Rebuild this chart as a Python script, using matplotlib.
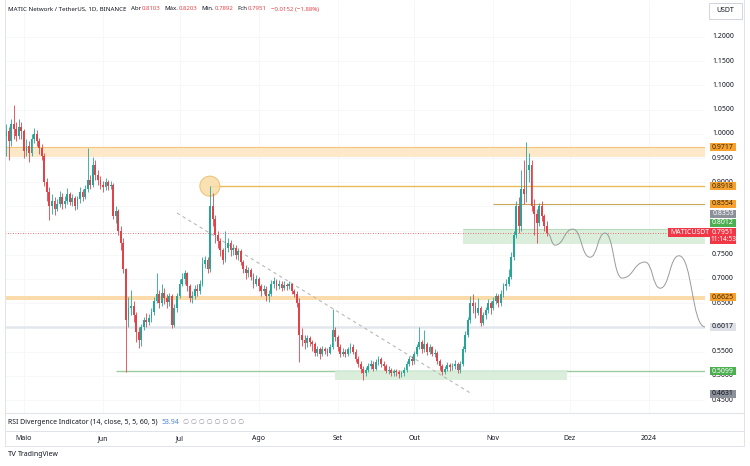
import numpy as np
import pandas as pd
import matplotlib
matplotlib.use('Agg')
import matplotlib.pyplot as plt
import matplotlib.transforms as mtransforms
from matplotlib.patches import Rectangle, Ellipse, PathPatch
from matplotlib.path import Path
from matplotlib.lines import Line2D

plt.rcParams['font.family'] = ['Noto Sans', 'DejaVu Sans']

# ---- daily candles MATIC/USDT, 2023-04-24 .. 2023-11-22 ----
dates = pd.date_range('2023-04-24', '2023-11-22', freq='D')

closes = [
    1.005, 0.985, 1.020, 1.010, 0.995, 1.015, 1.005,
    0.965, 0.975, 0.960, 0.990, 1.000, 0.985, 0.970,
    0.955, 0.900, 0.880, 0.850, 0.862, 0.845, 0.855,
    0.870, 0.855, 0.862, 0.875, 0.860, 0.868, 0.850,
    0.865, 0.880, 0.870, 0.885, 0.905, 0.895, 0.935,
    0.915, 0.905, 0.895, 0.890, 0.900, 0.892, 0.895,
    0.830, 0.840, 0.800, 0.775, 0.720, 0.615, 0.640,
    0.645, 0.625, 0.590, 0.575, 0.600, 0.615, 0.612,
    0.620, 0.632, 0.655, 0.668, 0.650, 0.672, 0.660,
    0.652, 0.665, 0.605, 0.640, 0.665, 0.690, 0.700,
    0.712, 0.685, 0.660, 0.665, 0.680, 0.675, 0.690,
    0.730, 0.740, 0.720, 0.850, 0.825, 0.790, 0.778,
    0.760, 0.740, 0.765, 0.775, 0.760, 0.765, 0.750,
    0.758, 0.735, 0.720, 0.712, 0.718, 0.705, 0.690,
    0.700, 0.685, 0.675, 0.680, 0.665, 0.670, 0.690,
    0.695, 0.685, 0.690, 0.682, 0.688, 0.685, 0.690,
    0.675, 0.670, 0.650, 0.585, 0.575, 0.568, 0.578,
    0.570, 0.565, 0.548, 0.555, 0.545, 0.555, 0.552,
    0.548, 0.560, 0.595, 0.580, 0.560, 0.545, 0.550,
    0.545, 0.555, 0.560, 0.550, 0.535, 0.525, 0.515,
    0.505, 0.512, 0.520, 0.525, 0.515, 0.528, 0.535,
    0.525, 0.520, 0.510, 0.512, 0.505, 0.510, 0.508,
    0.503, 0.505, 0.512, 0.525, 0.535, 0.530, 0.545,
    0.560, 0.570, 0.555, 0.565, 0.550, 0.560, 0.545,
    0.548, 0.530, 0.520, 0.508, 0.515, 0.522, 0.518,
    0.520, 0.525, 0.512, 0.525, 0.555, 0.585, 0.615,
    0.650, 0.645, 0.630, 0.640, 0.610, 0.625, 0.635,
    0.650, 0.640, 0.655, 0.665, 0.650, 0.670, 0.685,
    0.690, 0.705, 0.745, 0.790, 0.850, 0.810, 0.885,
    0.875, 0.925, 0.935, 0.850, 0.835, 0.815, 0.850,
    0.830, 0.8103, 0.7951,
]

highs = [
    1.020, 1.015, 1.030, 1.060, 1.025, 1.030, 1.025,
    1.010, 0.990, 0.985, 1.000, 1.012, 1.008, 0.992,
    0.978, 0.960, 0.908, 0.890, 0.875, 0.870, 0.866,
    0.882, 0.878, 0.872, 0.888, 0.880, 0.876, 0.872,
    0.872, 0.890, 0.886, 0.895, 0.971, 0.915, 0.952,
    0.945, 0.925, 0.912, 0.902, 0.908, 0.905, 0.902,
    0.898, 0.850, 0.845, 0.810, 0.785, 0.722, 0.662,
    0.677, 0.655, 0.632, 0.600, 0.608, 0.622, 0.630,
    0.628, 0.640, 0.662, 0.712, 0.678, 0.690, 0.682,
    0.668, 0.672, 0.668, 0.648, 0.672, 0.700, 0.712,
    0.718, 0.715, 0.690, 0.675, 0.688, 0.690, 0.698,
    0.745, 0.748, 0.745, 0.892, 0.878, 0.832, 0.800,
    0.785, 0.765, 0.800, 0.785, 0.780, 0.772, 0.770,
    0.765, 0.762, 0.740, 0.728, 0.725, 0.722, 0.712,
    0.708, 0.705, 0.690, 0.688, 0.685, 0.678, 0.698,
    0.705, 0.700, 0.698, 0.695, 0.695, 0.692, 0.696,
    0.692, 0.680, 0.675, 0.660, 0.598, 0.585, 0.585,
    0.582, 0.575, 0.570, 0.562, 0.560, 0.562, 0.560,
    0.558, 0.566, 0.638, 0.600, 0.585, 0.565, 0.558,
    0.556, 0.560, 0.568, 0.565, 0.555, 0.540, 0.530,
    0.520, 0.518, 0.526, 0.532, 0.530, 0.535, 0.540,
    0.538, 0.530, 0.524, 0.520, 0.516, 0.515, 0.514,
    0.512, 0.510, 0.518, 0.530, 0.540, 0.540, 0.552,
    0.565, 0.600, 0.575, 0.595, 0.570, 0.566, 0.562,
    0.555, 0.552, 0.535, 0.525, 0.520, 0.528, 0.526,
    0.526, 0.532, 0.528, 0.530, 0.562, 0.592, 0.622,
    0.665, 0.668, 0.652, 0.660, 0.645, 0.632, 0.642,
    0.658, 0.655, 0.662, 0.672, 0.670, 0.678, 0.692,
    0.700, 0.720, 0.755, 0.800, 0.862, 0.870, 0.925,
    0.945, 0.983, 0.960, 0.945, 0.865, 0.845, 0.858,
    0.862, 0.835, 0.8203,
]

lows = [
    0.955, 0.945, 0.975, 0.990, 0.985, 0.990, 0.990,
    0.950, 0.955, 0.942, 0.955, 0.980, 0.975, 0.958,
    0.945, 0.892, 0.862, 0.822, 0.835, 0.832, 0.840,
    0.848, 0.845, 0.846, 0.855, 0.852, 0.850, 0.842,
    0.845, 0.858, 0.862, 0.865, 0.880, 0.885, 0.890,
    0.905, 0.895, 0.885, 0.880, 0.884, 0.884, 0.885,
    0.825, 0.815, 0.790, 0.760, 0.712, 0.508, 0.600,
    0.625, 0.612, 0.570, 0.557, 0.562, 0.595, 0.600,
    0.605, 0.612, 0.625, 0.650, 0.640, 0.645, 0.648,
    0.640, 0.645, 0.598, 0.600, 0.632, 0.660, 0.685,
    0.690, 0.675, 0.652, 0.650, 0.658, 0.665, 0.668,
    0.685, 0.722, 0.712, 0.715, 0.810, 0.775, 0.765,
    0.748, 0.730, 0.735, 0.755, 0.748, 0.750, 0.742,
    0.740, 0.728, 0.712, 0.700, 0.705, 0.698, 0.682,
    0.685, 0.675, 0.665, 0.668, 0.655, 0.652, 0.665,
    0.682, 0.678, 0.680, 0.675, 0.678, 0.678, 0.680,
    0.668, 0.662, 0.642, 0.528, 0.562, 0.555, 0.560,
    0.562, 0.552, 0.540, 0.540, 0.535, 0.540, 0.545,
    0.540, 0.545, 0.555, 0.572, 0.552, 0.538, 0.540,
    0.538, 0.540, 0.548, 0.545, 0.528, 0.518, 0.505,
    0.491, 0.500, 0.508, 0.515, 0.510, 0.512, 0.522,
    0.518, 0.512, 0.505, 0.504, 0.500, 0.500, 0.500,
    0.496, 0.497, 0.500, 0.508, 0.520, 0.522, 0.525,
    0.540, 0.555, 0.548, 0.550, 0.542, 0.545, 0.540,
    0.538, 0.525, 0.512, 0.502, 0.503, 0.510, 0.510,
    0.512, 0.515, 0.506, 0.505, 0.520, 0.550, 0.580,
    0.610, 0.630, 0.620, 0.625, 0.602, 0.605, 0.618,
    0.630, 0.628, 0.635, 0.648, 0.642, 0.645, 0.662,
    0.678, 0.685, 0.700, 0.740, 0.785, 0.795, 0.800,
    0.855, 0.860, 0.900, 0.840, 0.790, 0.774, 0.810,
    0.820, 0.800, 0.7892,
]
first_open = 0.995

# horizontal levels drawn on the chart
band_top = (0.9530, 0.9717)      # orange zone
level_circle = 0.8918             # orange line from the July high
level_nov = 0.8554
band_mid = (0.6560, 0.6640)      # orange zone 0.6625
level_gray = 0.6017
level_green = 0.5099
box_upper = (0.7723, 0.8033)     # green box around price
box_lower = (0.4913, 0.5110)     # green box at the lows
trend_start = ('2023-06-30', 0.8364)
trend_end = ('2023-10-23', 0.4645)

# projected path: turning points of the hand drawn wave (day index, price)
path_days = [205.1, 208.2, 215.2, 221.9, 227.8, 234.5, 243.5, 249.4, 256.8, 267.0]
path_prices = [0.795, 0.770, 0.803, 0.745, 0.795, 0.702, 0.735, 0.681, 0.748, 0.601]

price_ticks = [1.20, 1.15, 1.10, 1.05, 1.00, 0.95, 0.90, 0.75, 0.70, 0.65, 0.55, 0.50, 0.45]
month_names = ['Maio', 'Jun', 'Jul', 'Ago', 'Set', 'Out', 'Nov', 'Dez', '2024']
month_starts = pd.date_range('2023-05-01', '2024-01-01', freq='MS')

W, H = 750, 466
fig = plt.figure(figsize=(W / 100, H / 100), dpi=100)
fig.patch.set_facecolor('white')
ax = fig.add_axes([5 / W, 1 - 413 / H, 700 / W, 413 / H])

base = pd.Timestamp('2023-05-01')
x = np.array((dates - base).days, dtype=float)
c = np.array(closes)
o = np.concatenate([[first_open], c[:-1]])
hi = np.maximum(np.array(highs), np.maximum(o, c))
lo = np.minimum(np.array(lows), np.minimum(o, c))

up_col, dn_col = '#26a69a', '#e0434a'
cols = np.where(c >= o, up_col, dn_col)

# y scale: 1.20 at px 37, 484 px per 1.0
ax.set_ylim(1.2 - (413 - 37) / 484, 1.2 + 37 / 484)
ax.set_xlim((5 - 23.9) / 2.551, (705 - 23.9) / 2.551)
ax.set_xticks([])
ax.set_yticks([])
for s in ax.spines.values():
    s.set_visible(False)

# faint grid
for d in month_starts:
    ax.axvline((d - base).days, color='#f5f6f8', lw=0.6, zorder=0)
for p in [1.20, 1.15, 1.10, 1.05, 1.00, 0.95, 0.90, 0.85, 0.80, 0.75, 0.70, 0.65, 0.60, 0.55, 0.50, 0.45]:
    ax.axhline(p, color='#f5f6f8', lw=0.6, zorder=0)

# zones and levels
xd = lambda s: (pd.Timestamp(s) - base).days
ax.axhspan(*band_top, color='#fde6c0', alpha=0.85, lw=0, zorder=1)
ax.axhline(band_top[1], color='#f3c57a', lw=0.8, zorder=1)
ax.axhspan(*band_mid, color='#fbd8a0', alpha=0.9, lw=0, zorder=1)
ax.axhline(level_gray, color='#e3e6ec', lw=1.8, zorder=1)
ax.hlines(level_circle, 72.9, 300, color='#e9b95a', lw=1.0, zorder=1)
ax.hlines(level_nov, xd('2023-11-01'), 300, color='#c9a55a', lw=0.8, zorder=1)
ax.hlines(level_green, xd('2023-06-06'), 300, color='#9ccc9f', lw=1.0, zorder=1)
ax.add_patch(Rectangle((xd('2023-10-20'), box_upper[0]), 120, box_upper[1] - box_upper[0],
                       fc='#d6edd8', ec='none', alpha=0.9, zorder=1))
ax.hlines(box_upper[1], xd('2023-10-20'), 300, color='#b5dcb8', lw=0.8, zorder=1)
ax.add_patch(Rectangle((xd('2023-08-31'), box_lower[0]), xd('2023-11-30') - xd('2023-08-31'),
                       box_lower[1] - box_lower[0], fc='#d6edd8', ec='none', alpha=0.9, zorder=1))
ax.add_patch(Ellipse((72.9, level_circle), 2 * 10 / 2.551, 2 * 10 / 484,
                     fc='#f9dca6', ec='#ecbf6a', lw=0.8, alpha=0.85, zorder=2))
ax.plot([xd(trend_start[0]), xd(trend_end[0])], [trend_start[1], trend_end[1]],
        color='#b8b8b8', lw=0.8, ls=(0, (3, 3)), zorder=2)
ax.axhline(c[-1], color='#e5484d', lw=0.6, ls=(0, (1, 2)), zorder=2)

# wave drawn as cubic bezier segments between the turning points
verts = [(path_days[0], path_prices[0])]
codes = [Path.MOVETO]
for i in range(len(path_days) - 1):
    x0, y0, x1, y1 = path_days[i], path_prices[i], path_days[i + 1], path_prices[i + 1]
    dx = (x1 - x0) / 2
    verts += [(x0 + dx, y0), (x1 - dx, y1), (x1, y1)]
    codes += [Path.CURVE4] * 3
ax.add_patch(PathPatch(Path(verts, codes), fc='none', ec='#9a9a9a', lw=0.7, zorder=2))

# candles
ax.vlines(x, lo, hi, colors=cols, lw=0.6, zorder=3)
ax.bar(x, np.maximum(np.abs(c - o), 0.0015), bottom=np.minimum(o, c), width=0.72,
       color=cols, lw=0, zorder=4)

# right price scale
tr = mtransforms.blended_transform_factory(ax.transAxes, ax.transData)
xc = (723 - 5) / 700
fs = 5.0
for p in price_ticks:
    ax.text(xc, p, f'{p:.4f}', transform=tr, ha='center', va='center', fontsize=fs,
            color='#131722', clip_on=False, zorder=5)

def price_box(p, txt, fc, tc, y=None, h=8, w=26, z=6):
    y = p if y is None else y
    hh = h / 484
    ax.add_patch(Rectangle(((710 - 5) / 700, y - hh / 2), w / 700, hh, transform=tr,
                           fc=fc, ec='none', clip_on=False, zorder=z))
    ax.text(xc, y, txt, transform=tr, ha='center', va='center', fontsize=fs,
            color=tc, clip_on=False, zorder=z + 0.5)

orange = '#f7a22e'
price_box(0.9717, '0.9717', orange, '#3a2a10')
price_box(0.8918, '0.8918', orange, '#3a2a10')
price_box(0.8554, '0.8554', orange, '#3a2a10')
price_box(0.8353, '0.8353', '#8c9099', 'white')
price_box(0.8012, '0.8012', '#4caf50', 'white', y=1.2 - (223 - 37) / 484)
price_box(0.6625, '0.6625', orange, '#3a2a10')
price_box(0.6017, '0.6017', '#dde0e6', '#131722')
price_box(0.5099, '0.5099', '#4caf50', 'white')
price_box(0.4631, '0.4631', '#8c9099', '#131722')

# current price box (two lines)
hh = 16 / 484
ytop = c[-1] + 5 / 484
ax.add_patch(Rectangle(((710 - 5) / 700, ytop - hh), 26 / 700, hh, transform=tr,
                       fc='#f23645', ec='none', clip_on=False, zorder=7))
ax.text(xc, c[-1] + 0.5 / 484, '0.7951', transform=tr, ha='center', va='center',
        fontsize=fs, color='white', clip_on=False, zorder=8)
ax.text(xc, c[-1] - 6.5 / 484, '11:14:53', transform=tr, ha='center', va='center',
        fontsize=4.7, color='white', clip_on=False, zorder=8)
ax.add_patch(Rectangle(((668 - 5) / 700, c[-1] - 4.5 / 484), 42 / 700, 9 / 484, transform=tr,
                       fc='#f23645', ec='none', clip_on=False, zorder=6))
ax.text((670 - 5) / 700, c[-1], 'MATICUSDT', transform=tr, ha='left', va='center',
        fontsize=5.0, color='white', clip_on=False, zorder=6.5)

# frame lines of the layout
def hline_px(y, x0, x1, col='#e0e3eb'):
    fig.add_artist(Line2D([x0 / W, x1 / W], [1 - y / H, 1 - y / H], color=col, lw=0.7))

def vline_px(x0, y0, y1, col='#e0e3eb'):
    fig.add_artist(Line2D([x0 / W, x0 / W], [1 - y0 / H, 1 - y1 / H], color=col, lw=0.7))

hline_px(413, 5, 744)
hline_px(431, 5, 744)
hline_px(446, 5, 744)
vline_px(5, 0, 446)
vline_px(744, 0, 446)

# USDT box
fig.add_artist(Rectangle((709 / W, 1 - 19 / H), 33 / W, 16 / H, transform=fig.transFigure,
                         fc='white', ec='#d1d4dc', lw=0.7))
fig.text(725.5 / W, 1 - 11 / H, 'USDT', ha='center', va='center', fontsize=5.0, color='#131722')

renderer = fig.canvas.get_renderer()

def pieces(x0, y0, parts, size):
    for txt, col, gap in parts:
        t = fig.text(x0 / W, 1 - y0 / H, txt, color=col, fontsize=size, ha='left', va='center')
        x0 += t.get_window_extent(renderer).width + gap

red = '#e5484d'
dark = '#131722'
pieces(8, 9, [('MATIC Network / TetherUS, 1D, BINANCE', dark, 5),
              ('Abr', dark, 0.3), ('0.8103', red, 4),
              ('Máx.', dark, 0.3), ('0.8203', red, 4),
              ('Mín.', dark, 0.3), ('0.7892', red, 4),
              ('Fch', dark, 0.3), ('0.7951', red, 4),
              ('−0.0152 (−1.88%)', red, 0)], 4.4)

pieces(8, 422, [('RSI Divergence Indicator (14, close, 5, 5, 60, 5)', dark, 4),
                ('53.94', '#4f86d6', 4),
                (' '.join(['∅'] * 8), '#9598a1', 0)], 5.0)

# time axis
for d, name in zip(month_starts, month_names):
    px = 23.9 + (d - base).days * 2.551
    fig.text(px / W, 1 - 438.5 / H, name, ha='center', va='center', fontsize=5.0,
             color=dark, fontweight='bold' if name == '2024' else 'normal')

fig.text(8 / W, 1 - 455 / H, 'TV', ha='left', va='center', fontsize=5.6, color=dark,
         fontweight='bold')
fig.text(18 / W, 1 - 455 / H, 'TradingView', ha='left', va='center', fontsize=5.0, color=dark)

fig.savefig('out.png', dpi=100)
